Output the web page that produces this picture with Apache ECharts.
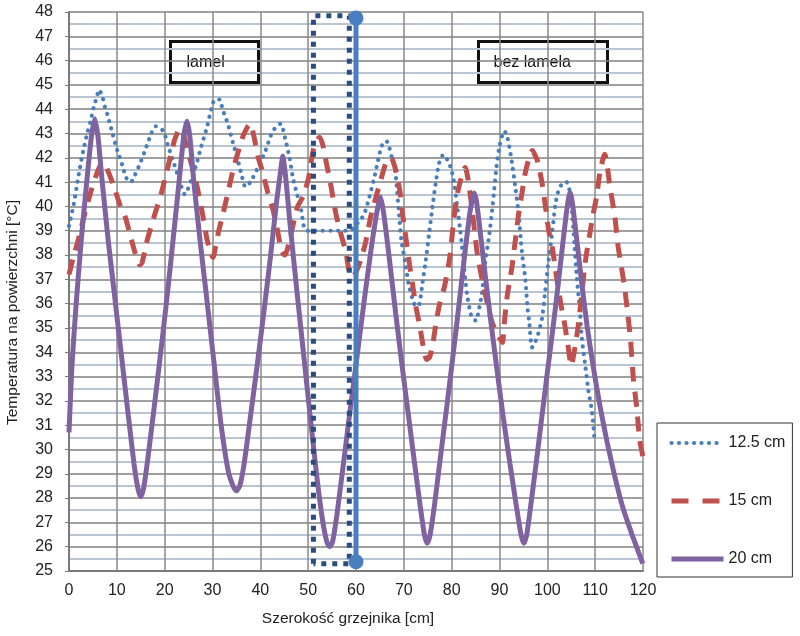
<!DOCTYPE html>
<html>
<head>
<meta charset="utf-8">
<script src="https://cdn.jsdelivr.net/npm/echarts@6/dist/echarts.min.js"></script>
<style>html,body{margin:0;padding:0;background:#fff}#c{width:800px;height:636px}</style>
</head>
<body>
<div id="c"></div>
<script>
// ---- data (x in cm, temperature in °C) ----
const seriesNames = ['12.5 cm', '15 cm', '20 cm'];
const s125 = [
[0,39.2],[1.0,40.1],[1.6,40.8],[2.3,41.6],[3.0,42.3],[3.8,43.0],[4.5,43.5],[5.2,44.1],[5.8,44.5],[6.3,44.8],[7.0,44.5],[7.5,44.1],[8.0,43.8],[9.1,43.0],[10.1,42.3],[11.3,41.6],[11.9,41.2],[12.9,41.0],[13.8,41.3],[14.5,41.6],[15.9,42.3],[17.2,43.0],[18.1,43.3],[19.7,43.1],[20.7,42.5],[21.9,41.8],[23.2,41.0],[24.2,40.5],[25.6,41.1],[26.8,41.85],[27.7,42.5],[28.9,43.3],[29.8,44.05],[30.5,44.4],[31.5,44.4],[32.1,44.0],[33.2,43.4],[34.3,42.6],[35.3,41.9],[36.2,41.2],[36.9,40.8],[37.9,41.0],[39.5,41.6],[41.1,42.3],[42.6,43.1],[44.2,43.4],[45.3,42.7],[46.1,42.0],[46.8,41.2],[47.6,40.55],[48.5,39.9],[49.2,39.1],[50.0,39.0],[52.7,39.0],[54.8,39.0],[57.0,39.0],[58.5,39.0],[60.7,39.4],[61.75,39.7],[62.8,40.4],[63.85,41.2],[64.5,41.8],[65.4,42.5],[66.3,42.7],[67.0,42.4],[67.5,42.0],[68.0,41.65],[68.4,41.1],[68.9,39.9],[69.5,38.6],[70.2,37.8],[71.0,36.8],[71.8,36.2],[72.5,35.9],[73.2,35.95],[73.9,36.85],[74.6,37.8],[75.3,38.9],[76.0,40.0],[76.7,41.0],[77.4,41.8],[78.3,42.13],[79.7,41.65],[80.4,41.1],[81.1,40.1],[81.8,39.0],[82.5,37.7],[83.2,36.4],[83.8,35.74],[84.3,35.4],[85.1,35.3],[85.6,35.67],[86.3,36.4],[87.0,37.67],[87.9,38.9],[88.6,40.1],[89.3,41.5],[90.0,42.47],[91.0,43.1],[91.6,42.9],[92.6,41.8],[93.3,40.8],[94.0,39.7],[94.7,38.1],[95.4,37.0],[95.9,35.75],[96.2,35.3],[96.8,34.2],[97.4,34.4],[98.0,34.7],[98.9,35.4],[99.5,36.4],[100.2,37.67],[101.0,38.9],[101.7,40.1],[102.4,40.7],[103.2,40.95],[104.0,41.0],[104.6,40.7],[105.2,39.7],[105.7,38.35],[106.2,37.0],[106.8,35.75],[107.2,34.6],[107.9,33.5],[108.6,32.4],[109.3,31.6],[109.8,30.55]
];
const s15 = [
[0,37.2],[0.9,37.9],[1.9,38.6],[3.3,39.7],[4.7,40.7],[6.1,41.5],[7.0,41.8],[7.7,41.65],[9.25,40.9],[10.6,40.1],[11.7,39.6],[12.7,38.9],[13.8,38.1],[14.8,37.6],[15.3,37.7],[16.2,38.5],[17.2,39.2],[18.3,39.9],[19.3,40.55],[20.0,41.1],[20.7,41.65],[21.4,42.2],[22.1,42.75],[23.2,43.2],[23.9,43.0],[24.4,42.6],[25.5,41.8],[26.8,40.8],[28.0,39.6],[28.9,38.6],[29.8,38.0],[30.1,37.9],[30.6,38.3],[31.2,38.9],[32.2,39.7],[33.2,40.55],[34.3,41.5],[35.3,42.2],[36.4,42.9],[37.4,43.3],[37.9,43.4],[38.3,43.2],[38.8,42.75],[39.5,42.06],[40.5,41.4],[41.6,40.55],[42.6,39.9],[43.7,38.9],[44.4,38.2],[45.1,38.0],[45.6,38.2],[46.1,38.6],[46.8,39.2],[47.8,40.0],[48.9,40.4],[50.0,41.1],[50.6,41.8],[51.3,42.5],[52.4,42.85],[53.1,42.5],[53.8,41.8],[54.8,40.8],[55.8,39.7],[56.8,38.9],[57.9,38.1],[58.6,37.3],[59.2,37.1],[60.0,37.3],[61.0,37.8],[62.1,38.6],[63.1,39.6],[64.2,40.4],[65.2,41.1],[66.3,41.8],[67.3,42.0],[68.3,41.5],[69.2,40.6],[69.8,39.6],[70.5,38.6],[71.2,37.6],[71.9,36.7],[72.5,35.9],[73.4,35.0],[74.1,34.2],[74.8,33.7],[75.4,33.8],[76.1,34.4],[76.8,35.3],[77.5,36.0],[78.5,36.7],[79.6,37.9],[80.3,39.2],[81.0,40.3],[81.7,40.96],[82.8,41.6],[84.0,40.3],[85.4,38.0],[86.8,36.6],[88.5,35.2],[90.0,34.6],[90.6,34.4],[91.0,35.2],[91.6,36.3],[92.6,37.5],[93.3,38.6],[94.0,39.7],[94.7,40.55],[95.4,41.4],[96.5,42.2],[96.9,42.3],[97.2,42.2],[97.9,41.9],[98.9,40.96],[99.6,40.0],[100.3,39.0],[101.0,38.35],[102.0,37.0],[102.9,35.9],[103.5,35.3],[104.3,34.3],[105.0,33.45],[105.6,34.0],[106.4,35.0],[107.1,36.2],[107.9,37.67],[108.9,38.9],[109.6,39.7],[110.3,40.4],[111.0,41.4],[112.0,42.15],[113.1,40.8],[114.1,39.6],[114.8,38.35],[115.5,37.5],[116.2,36.6],[116.8,35.6],[117.4,34.5],[118.0,32.9],[118.7,31.7],[119.3,30.4],[120,29.7]
];
const s20 = [
[0,30.7],[0.6,33.4],[1.5,36.0],[2.6,38.7],[3.8,41.2],[4.7,42.9],[5.4,43.6],[6.1,42.8],[6.9,41.1],[8.2,38.6],[9.6,36.2],[11.0,33.8],[12.4,31.4],[13.6,29.4],[14.4,28.4],[15.0,28.05],[15.6,28.4],[16.4,29.5],[17.6,31.4],[19.0,33.7],[20.4,36.1],[21.8,38.7],[23.1,41.2],[24.0,42.9],[24.7,43.5],[25.3,42.8],[26.1,41.0],[27.4,38.6],[28.8,36.2],[30.3,33.6],[31.8,31.0],[33.3,29.1],[34.3,28.5],[35.0,28.3],[35.7,28.5],[36.6,29.4],[37.9,31.3],[39.3,33.4],[40.7,35.6],[42.1,37.9],[43.4,40.2],[44.2,41.4],[44.7,42.06],[45.3,41.2],[46.2,39.3],[47.6,36.6],[49.0,34.0],[50.4,31.4],[51.8,28.9],[53.0,27.1],[53.9,26.2],[54.5,26.0],[55.1,26.2],[56.0,27.3],[57.3,29.3],[58.7,31.5],[60.2,33.8],[61.7,36.1],[63.2,38.3],[64.4,39.8],[65.1,40.4],[65.8,39.7],[67.0,37.8],[68.3,35.6],[69.6,33.5],[70.9,31.5],[72.2,29.5],[73.4,27.7],[74.3,26.5],[74.9,26.14],[75.5,26.5],[76.4,27.7],[77.6,29.6],[79.0,31.8],[80.3,33.9],[81.5,35.9],[82.6,37.8],[83.7,39.6],[84.3,40.3],[84.7,40.55],[85.2,40.2],[86.0,38.9],[87.0,37.2],[88.1,35.4],[89.4,33.4],[90.8,31.3],[92.2,29.4],[93.5,27.7],[94.5,26.5],[95.1,26.14],[95.7,26.5],[96.6,27.8],[97.9,29.8],[99.2,31.9],[100.6,34.1],[101.8,36.0],[102.9,37.9],[103.9,39.6],[104.4,40.3],[104.75,40.58],[105.2,40.2],[106.0,38.9],[107.1,37.0],[108.3,35.1],[109.6,33.4],[111.0,31.8],[112.5,30.3],[114.1,28.9],[115.8,27.6],[117.7,26.5],[119.95,25.3]
];
// dotted frame (x from 51.1 to 58.6 cm) and the heating tube line at 60 cm
const frameBox = [[51.1,25.3],[51.1,47.85],[58.6,47.85],[58.6,25.3],[51.1,25.3]];
const tubeLine = [[60,25.38],[60,47.75]];
const xMin = 0, xMax = 120, xStep = 10;
const yMin = 25, yMax = 48, yStep = 1;

const FONT = "'Liberation Sans', Arial, sans-serif";
const chart = echarts.init(document.getElementById('c'), null, {renderer: 'canvas'});
chart.setOption({
  backgroundColor: '#ffffff',
  animation: false,
  grid: {left: 69, top: 12, right: 157, bottom: 65, containLabel: false, outerBoundsMode: 'none'},
  xAxis: {
    type: 'value', min: xMin, max: xMax, interval: xStep,
    name: 'Szerokość grzejnika [cm]', nameLocation: 'middle', nameGap: 40,
    nameTextStyle: {fontFamily: FONT, fontSize: 15.5, color: '#222', padding: [0, 16, 0, 0]},
    axisLine: {show: true, lineStyle: {color: '#7a7a7a', width: 2}},
    axisTick: {show: false},
    axisLabel: {fontFamily: FONT, fontSize: 16, color: '#222', margin: 12},
    splitLine: {show: true, lineStyle: {color: '#8a8a8a', width: 1.5}}
  },
  yAxis: {
    type: 'value', min: yMin, max: yMax, interval: yStep,
    name: 'Temperatura na powierzchni [°C]', nameLocation: 'middle', nameGap: 48,
    nameTextStyle: {fontFamily: FONT, fontSize: 15.5, color: '#222', padding: [0, 42, 0, 0]},
    axisLine: {show: true, lineStyle: {color: '#7a7a7a', width: 2}},
    axisTick: {show: true, length: 4, lineStyle: {color: '#7a7a7a'}},
    axisLabel: {fontFamily: FONT, fontSize: 16, color: '#222', margin: 16},
    minorTick: {show: false, splitNumber: 2},
    minorSplitLine: {show: true, lineStyle: {color: '#b9c5d2', width: 2}},
    splitLine: {show: true, lineStyle: {color: '#808080', width: 1.5}}
  },
  legend: {
    data: [
      {name: seriesNames[0], lineStyle: {width: 4.2, type: [0.1, 7.4], cap: 'round'}},
      {name: seriesNames[1], lineStyle: {width: 5, type: [17, 14]}},
      {name: seriesNames[2], lineStyle: {width: 5}}
    ],
    orient: 'vertical', left: 657, top: 423,
    padding: [12, 7, 10, 12], itemGap: 42, itemWidth: 52, itemHeight: 16,
    borderColor: '#333', borderWidth: 1, backgroundColor: '#fff',
    itemStyle: {opacity: 0},
    textStyle: {fontFamily: FONT, fontSize: 16, color: '#222'}
  },
  series: [
    {name: seriesNames[0], type: 'line', data: s125, smooth: 0.25, symbol: 'none', z: 3,
     lineStyle: {color: '#4a7ebb', width: 4.2, type: [0.1, 7.4], cap: 'round'}, itemStyle: {color: '#4a7ebb'}},
    {name: seriesNames[1], type: 'line', data: s15, smooth: 0.25, symbol: 'none', z: 3,
     lineStyle: {color: '#c0504d', width: 5, type: [15, 10]}, itemStyle: {color: '#c0504d'}},
    {name: seriesNames[2], type: 'line', data: s20, smooth: 0.2, symbol: 'none', z: 4,
     lineStyle: {color: '#7f62a0', width: 5}, itemStyle: {color: '#7f62a0'}},
    {name: 'frame', type: 'line', data: frameBox, symbol: 'none', z: 5, silent: true,
     lineStyle: {color: '#2b4c7e', width: 5, type: [5, 6]}},
    {name: 'tube', type: 'line', data: tubeLine, symbol: 'circle', symbolSize: 15, z: 6, silent: true,
     lineStyle: {color: '#4a7fbf', width: 5}, itemStyle: {color: '#4a7fbf'}}
  ],
  graphic: [
    {type: 'group', left: 169, top: 40, children: [
      {type: 'rect', shape: {x: 0, y: 0, width: 88, height: 41}, style: {fill: '#fff', stroke: '#111', lineWidth: 3}},
      {type: 'text', x: 16, y: 21, style: {text: 'lamel', fontFamily: FONT, fontSize: 16, fill: '#111', verticalAlign: 'middle'}}
    ]},
    {type: 'group', left: 477, top: 40, children: [
      {type: 'rect', shape: {x: 0, y: 0, width: 129, height: 41}, style: {fill: '#fff', stroke: '#111', lineWidth: 3}},
      {type: 'text', x: 15, y: 21, style: {text: 'bez lamela', fontFamily: FONT, fontSize: 16, fill: '#111', verticalAlign: 'middle'}}
    ]}
  ]
});
</script>
</body>
</html>
